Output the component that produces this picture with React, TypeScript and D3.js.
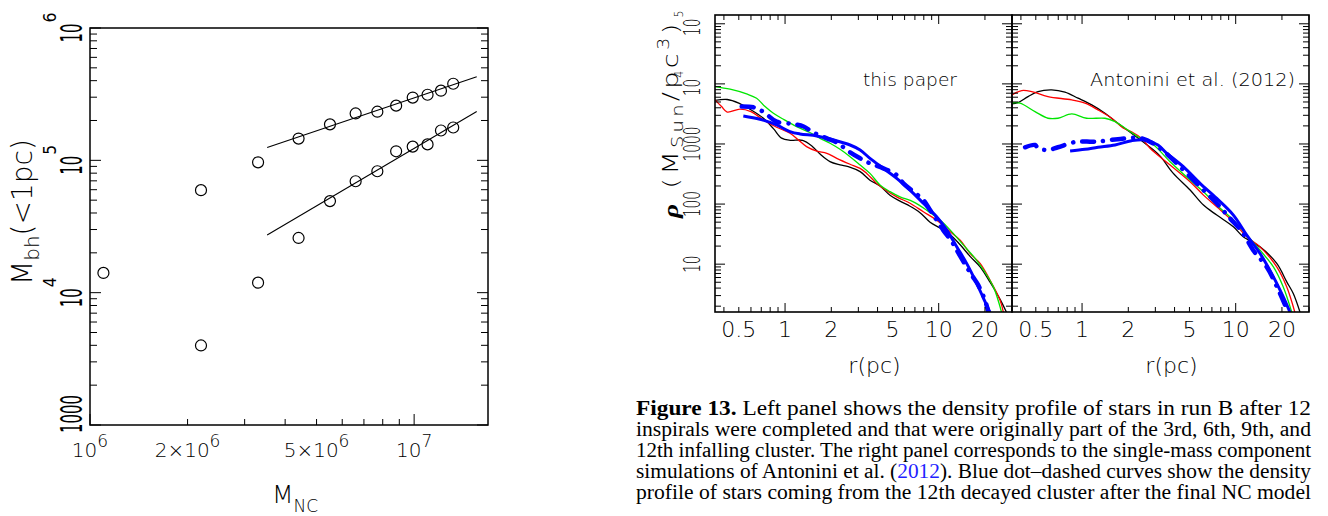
import React from 'react';
import * as d3 from 'd3';

// ---------- left panel: M_bh(<1pc) against M_NC ----------
const mNC = [1.1e6, 2.2e6, 3.3e6, 4.4e6, 5.5e6, 6.6e6, 7.7e6, 8.8e6, 9.9e6, 1.1e7, 1.21e7, 1.32e7];
const mbhUpper = [1.41e4, 5.95e4, 9.66e4, 1.46e5, 1.87e5, 2.26e5, 2.33e5, 2.59e5, 2.98e5, 3.13e5, 3.36e5, 3.79e5];
const mbhLower = [3.99e3, 1.19e4, 2.59e4, 4.92e4, 6.95e4, 8.27e4, 1.17e5, 1.27e5, 1.32e5, 1.68e5, 1.77e5]; // from 2.2e6 on
const fitMNC = [3.52e6, 1.56e7];
const fitUpper = [1.25e5, 4.28e5];
const fitLower = [2.73e4, 2.34e5];

const leftXTicks = [
  { v: 1e6, base: '10', exp: '6' },
  { v: 2e6, base: '2\u00d710', exp: '6' },
  { v: 5e6, base: '5\u00d710', exp: '6' },
  { v: 1e7, base: '10', exp: '7' },
];
const leftYTicks = [
  { v: 1e3, base: '1000', exp: '' },
  { v: 1e4, base: '10', exp: '4' },
  { v: 1e5, base: '10', exp: '5' },
  { v: 1e6, base: '10', exp: '6' },
];

// ---------- right panel: density profiles, [r (pc), rho (Msun/pc^3)] ----------
const paperBlack = [[0.35, 5300], [0.42, 5500], [0.5, 4800], [0.59, 3800], [0.72, 2700], [0.84, 1800], [0.95, 1250], [1.08, 1150], [1.3, 1150], [1.5, 920], [1.69, 680], [1.96, 510], [2.28, 450], [2.58, 420], [3.08, 346], [3.57, 250], [4.15, 200], [4.82, 140], [5.6, 112], [6.51, 92], [7.56, 72], [8.79, 50], [10.2, 40], [11.9, 31], [13.8, 21], [16.0, 13.5], [18.6, 9], [21.6, 5], [25.1, 2.6], [27.7, 1.56]];
const paperRed = [[0.35, 5410], [0.386, 4190], [0.42, 3400], [0.509, 3800], [0.6, 3460], [0.723, 2510], [0.881, 1900], [1.077, 1510], [1.22, 1170], [1.38, 903], [1.61, 760], [1.87, 699], [2.17, 577], [2.65, 460], [3.08, 393], [3.4, 324], [3.94, 221], [4.36, 182], [5.33, 132], [6.51, 103], [7.94, 74.5], [9.7, 54.1], [11.9, 34.6], [13.8, 25.1], [16.0, 15.1], [18.6, 10.3], [21.6, 5.41], [25.1, 2.51], [26.4, 1.56]];
const paperGreen = [[0.35, 9030], [0.439, 8150], [0.562, 6810], [0.653, 5770], [0.741, 4190], [0.84, 3240], [0.975, 2580], [1.19, 1950], [1.45, 1550], [1.69, 1240], [1.963, 1030], [2.28, 815], [2.65, 615], [3.08, 447], [3.57, 324], [4.15, 208], [4.82, 161], [5.6, 132], [6.84, 109], [8.35, 79.4], [10.2, 54.1], [11.9, 36.9], [14.5, 20.7], [17.3, 12.4], [19.6, 7.94], [22.7, 4.19], [25.7, 1.56]];
const paperBlue = [[0.535, 2930], [0.687, 2580], [0.881, 2070], [1.077, 1610], [1.25, 1470], [1.61, 1360], [2.06, 1170], [2.65, 962], [3.08, 794], [3.57, 577], [4.36, 393], [5.33, 268], [6.51, 171], [7.94, 103], [9.7, 61.5], [11.3, 36.9], [13.1, 19.5], [15.2, 10.3], [17.7, 4.76], [19.6, 2.68], [21.6, 1.56]];
const paperBlueDash = [[0.522, 4190], [0.622, 4080], [0.687, 3690], [0.767, 3040], [0.881, 2350], [1.13, 2150], [1.32, 1950], [1.528, 1550], [1.87, 1240], [2.22, 1030], [2.52, 794], [3.08, 577], [3.57, 476], [4.36, 393], [5.33, 304], [5.89, 221], [6.84, 161], [7.94, 117], [8.79, 79.4], [9.7, 54.1], [10.7, 36.9], [12.2, 23.5], [13.1, 17.1], [15.2, 9.03], [16.4, 6.56], [18.1, 4.47], [20.0, 2.51], [21.1, 1.56]];

const antBlack = [[0.35, 4640], [0.383, 4880], [0.445, 6140], [0.517, 7450], [0.634, 7940], [0.774, 7280], [0.942, 5780], [1.156, 4470], [1.41, 3250], [1.71, 2210], [2.1, 1510], [2.6, 1000], [3.2, 640], [3.9, 330], [5.05, 171], [6.17, 96.2], [7.53, 65.6], [9.66, 41.9], [11.2, 28.5], [14.4, 19.4], [18.5, 10.3], [21.5, 5.07], [23.7, 3.25], [26.2, 1.6]];
const antRed = [[0.35, 6560], [0.405, 7730], [0.47, 7450], [0.6, 6140], [0.857, 5410], [1.045, 4770], [1.27, 3690], [1.56, 2680], [1.85, 1850], [2.1, 1600], [2.44, 1240], [2.77, 848], [3.74, 447], [5.05, 235], [6.17, 141], [7.53, 90.2], [9.66, 50.7], [11.8, 28.5], [14.4, 19.4], [18.5, 9.02], [21.5, 4.18], [24.3, 1.57]];
const antGreen = [[0.35, 4820], [0.394, 4770], [0.494, 3450], [0.6, 2680], [0.697, 2680], [0.857, 3160], [1.07, 2680], [1.41, 2680], [1.64, 2350], [1.91, 1830], [2.31, 1320], [2.84, 1030], [3.74, 507], [5.05, 251], [6.17, 160], [7.53, 96.2], [9.66, 54.1], [11.8, 30.4], [14.4, 17.1], [17.6, 9.02], [20.4, 4.18], [23.2, 1.57]];
const antBlue = [[0.836, 764], [1.045, 816], [1.27, 881], [1.64, 962], [2.1, 1135], [2.57, 1170], [3.12, 962], [3.56, 700], [4.56, 419], [5.86, 221], [7.53, 124], [9.66, 65.6], [11.8, 30.4], [14.4, 15.1], [17.6, 6.14], [20.4, 2.85], [22.6, 1.57]];
const antBlueDash = [[0.426, 881], [0.494, 962], [0.517, 848], [0.6, 794], [0.697, 881], [0.923, 1090], [1.21, 1090], [1.71, 1200], [2.44, 1240], [3.22, 848], [4.13, 476], [5.86, 194], [7.53, 103], [9.19, 57.8], [11.0, 34.5], [13.0, 17.1], [15.9, 9.02], [19.0, 3.69], [22.0, 1.57]];

const rTickLabels = [0.5, 1, 2, 5, 10, 20];
const rhoTickLabels = [
  { v: 10, base: '10', exp: '' },
  { v: 100, base: '100', exp: '' },
  { v: 1000, base: '1000', exp: '' },
  { v: 1e4, base: '10', exp: '4' },
  { v: 1e5, base: '10', exp: '5' },
];

const captionLines = [
  [{ t: 'Figure 13.', b: true }, { t: ' Left panel shows the density profile of stars in run B after 12' }],
  [{ t: 'inspirals were completed and that were originally part of the 3rd, 6th, 9th, and' }],
  [{ t: '12th infalling cluster. The right panel corresponds to the single-mass component' }],
  [{ t: 'simulations of Antonini et al. (' }, { t: '2012', c: '#1f1fff' }, { t: '). Blue dot\u2013dashed curves show the density' }],
  [{ t: 'profile of stars coming from the 12th decayed cluster after the final NC model' }],
];

const SANS = "'DejaVu Sans', sans-serif";
const SERIF = "'Liberation Serif', 'Times New Roman', Times, serif";

function logTicks(lo: number, hi: number) {
  const out: { v: number; major: boolean }[] = [];
  for (let e = Math.floor(Math.log10(lo)); e <= Math.ceil(Math.log10(hi)); e++) {
    for (let m = 1; m < 10; m++) {
      const v = m * Math.pow(10, e);
      if (v >= lo * 0.9999 && v <= hi * 1.0001) out.push({ v, major: m === 1 });
    }
  }
  return out;
}

function Lbl(props: any) {
  const { x, y, rot, sx = 1, sy = 1, size, anchor = 'middle', weight = 200, children, len, ls } = props;
  const t = 'translate(' + x + ',' + y + ')' + (rot ? ' rotate(-90)' : '') + ' scale(' + sx + ',' + sy + ')';
  return (
    <text transform={t} fontSize={size} textAnchor={anchor} fontFamily={SANS} fontWeight={weight}
      fill="#000" textLength={len} lengthAdjust={len ? 'spacingAndGlyphs' : undefined} letterSpacing={ls}>
      {children}
    </text>
  );
}

// rotated tick label with an optional exponent, centred on yc
function RotPow(props: any) {
  const { x, yc, main, exp, mainLen, expLen, size, sy, expSize, expSy, expX, weight } = props;
  const total = mainLen + (exp ? expLen : 0);
  const y0 = yc + total / 2;
  return (
    <g>
      <Lbl x={x} y={y0} rot sy={sy} size={size} anchor="start" len={mainLen} weight={weight}>{main}</Lbl>
      {exp ? <Lbl x={expX} y={y0 - mainLen - 1} rot sy={expSy} size={expSize} anchor="start" len={expLen} weight={weight}>{exp}</Lbl> : null}
    </g>
  );
}

function LeftPanel() {
  const L = 90, R = 488, T = 28, B = 425;
  const x = d3.scaleLog().domain([1e6, 1.69e7]).range([L, R]);
  const y = d3.scaleLog().domain([1e3, 1e6]).range([B, T]);
  const xt = logTicks(1e6, 1.69e7);
  const yt = logTicks(1e3, 1e6);
  const pts: [number, number][] = mNC.map((m, i) => [m, mbhUpper[i]] as [number, number])
    .concat(mbhLower.map((v, i) => [mNC[i + 1], v] as [number, number]));
  const fit = d3.line<number>().x((d, i) => x(fitMNC[i])).y(d => y(d));
  return (
    <g>
      <rect x={L} y={T} width={R - L} height={B - T} fill="none" stroke="#000" strokeWidth={1.5} />
      {xt.map((t, i) => (
        <line key={'xt' + i} x1={x(t.v)} x2={x(t.v)} y1={B} y2={B - (t.major ? 11 : 6)} stroke="#000" strokeWidth={1} />
      ))}
      {yt.map((t, i) => (
        <g key={'yt' + i}>
          <line x1={L} x2={L + (t.major ? 11 : 7)} y1={y(t.v)} y2={y(t.v)} stroke="#000" strokeWidth={1} />
          <line x1={R} x2={R - (t.major ? 11 : 7)} y1={y(t.v)} y2={y(t.v)} stroke="#000" strokeWidth={1} />
        </g>
      ))}
      {leftXTicks.map((t, i) => (
        <Lbl key={'xl' + i} x={x(t.v)} y={457} size={20}>
          {t.base}<tspan fontSize={17} dy={-10}>{t.exp}</tspan>
        </Lbl>
      ))}
      {leftYTicks.map((t, i) => (
        <RotPow key={'yl' + i} x={82} yc={Math.min(y(t.v), B - 11)} main={t.base} exp={t.exp} weight={400}
          mainLen={t.base.length * 9.5} expLen={10} size={19} sy={1.6} expSize={13} expSy={1.3} expX={56} />
      ))}
      {[fitUpper, fitLower].map((f, i) => (
        <path key={'fit' + i} d={fit(f) || ''} fill="none" stroke="#000" strokeWidth={1.1} />
      ))}
      {pts.map((p, i) => (
        <circle key={'p' + i} cx={x(p[0])} cy={y(p[1])} r={5.5} fill="none" stroke="#000" strokeWidth={1.2} />
      ))}
      <Lbl x={32} y={212} rot size={28}>
        M<tspan fontSize={20} dy={7}>bh</tspan><tspan dy={-7}>(&lt;1pc)</tspan>
      </Lbl>
      <Lbl x={272} y={503} size={25} anchor="start">
        M<tspan fontSize={17} dy={9}>NC</tspan>
      </Lbl>
    </g>
  );
}

function DensityBox(props: any) {
  const { L, R, T, B, curves, thick, dash, note, noteX, noteLen, showY, clipId } = props;
  const x = d3.scaleLog().domain([0.35, 30]).range([L, R]);
  const y = d3.scaleLog().domain([1.6, 1.4e5]).range([B, T]);
  const line = d3.line<number[]>().x(d => x(d[0])).y(d => y(d[1])).curve(d3.curveCatmullRom.alpha(0.5));
  const xt = logTicks(0.35, 30);
  const yt = logTicks(1.6, 1.4e5);
  return (
    <g>
      <defs>
        <clipPath id={clipId}><rect x={L} y={T} width={R - L} height={B - T} /></clipPath>
      </defs>
      <g clipPath={'url(#' + clipId + ')'}>
        {curves.map((c: any, i: number) => (
          <path key={'c' + i} d={line(c.data) || ''} fill="none" stroke={c.color} strokeWidth={1.3} />
        ))}
        <path d={line(thick) || ''} fill="none" stroke="#0000ff" strokeWidth={3} />
        <path d={line(dash) || ''} fill="none" stroke="#0000ff" strokeWidth={4.5}
          strokeDasharray="12 9 0.1 9" strokeLinecap="round" />
      </g>
      {xt.map((t, i) => (
        <g key={'xt' + i}>
          <line x1={x(t.v)} x2={x(t.v)} y1={B} y2={B - (t.major ? 9 : 5)} stroke="#000" strokeWidth={1} />
          <line x1={x(t.v)} x2={x(t.v)} y1={T} y2={T + (t.major ? 9 : 5)} stroke="#000" strokeWidth={1} />
        </g>
      ))}
      {yt.map((t, i) => (
        <g key={'yt' + i}>
          <line x1={L} x2={L + (t.major ? 10 : 6)} y1={y(t.v)} y2={y(t.v)} stroke="#000" strokeWidth={1} />
          <line x1={R} x2={R - (t.major ? 10 : 6)} y1={y(t.v)} y2={y(t.v)} stroke="#000" strokeWidth={1} />
        </g>
      ))}
      <rect x={L} y={T} width={R - L} height={B - T} fill="none" stroke="#000" strokeWidth={1.6} />
      {rTickLabels.map((v, i) => (
        <Lbl key={'xl' + i} x={x(v)} y={337} size={22}>{String(v)}</Lbl>
      ))}
      {showY ? rhoTickLabels.map((t, i) => (
        <RotPow key={'yl' + i} x={700} yc={y(t.v)} main={t.base} exp={t.exp} weight={200}
          mainLen={t.base.length * 8.7} expLen={7} size={23} sy={1} expSize={12} expSy={1} expX={683} />
      )) : null}
      <Lbl x={noteX} y={86} size={17} anchor="start" len={noteLen}>{note}</Lbl>
      <Lbl x={(L + R) / 2 + 11} y={373} size={22}>r(pc)</Lbl>
    </g>
  );
}

export default function App() {
  return (
    <svg width={1328} height={516} viewBox="0 0 1328 516"
      style={{ position: 'absolute', left: 0, top: 0, background: '#fff' }}>
      <rect x={0} y={0} width={1328} height={516} fill="#fff" />
      <LeftPanel />
      <DensityBox L={715} R={1012} T={15} B={312} clipId="clipA" showY
        curves={[{ data: paperBlack, color: '#000' }, { data: paperRed, color: '#ff0000' }, { data: paperGreen, color: '#00e600' }]}
        thick={paperBlue} dash={paperBlueDash} note="this paper" noteX={863} noteLen={94} />
      <DensityBox L={1012} R={1309} T={15} B={312} clipId="clipB" showY={false}
        curves={[{ data: antBlack, color: '#000' }, { data: antRed, color: '#ff0000' }, { data: antGreen, color: '#00e600' }]}
        thick={antBlue} dash={antBlueDash} note="Antonini et al. (2012)" noteX={1090} noteLen={205} />
      <Lbl x={678} y={218} rot sx={1.3} size={21} anchor="start" ls={2.5}>
        <tspan fontFamily={SERIF} fontStyle="italic" fontWeight={700}>{'\u03c1'}</tspan>
        {' (M'}<tspan fontSize={15} dy={5}>Sun</tspan><tspan dy={-5}>/pc</tspan>
        <tspan fontSize={15} dy={-9}>3</tspan><tspan dy={9}>)</tspan>
      </Lbl>
      {captionLines.map((ln, i) => (
        <text key={'cap' + i} x={636} y={415 + i * 21} fontFamily={SERIF}
          fontSize={20} textLength={675} lengthAdjust="spacingAndGlyphs" fill="#000">
          {ln.map((s: any, j: number) => (
            <tspan key={j} fontWeight={s.b ? 700 : 400} fill={s.c || '#000'}>{s.t}</tspan>
          ))}
        </text>
      ))}
    </svg>
  );
}
